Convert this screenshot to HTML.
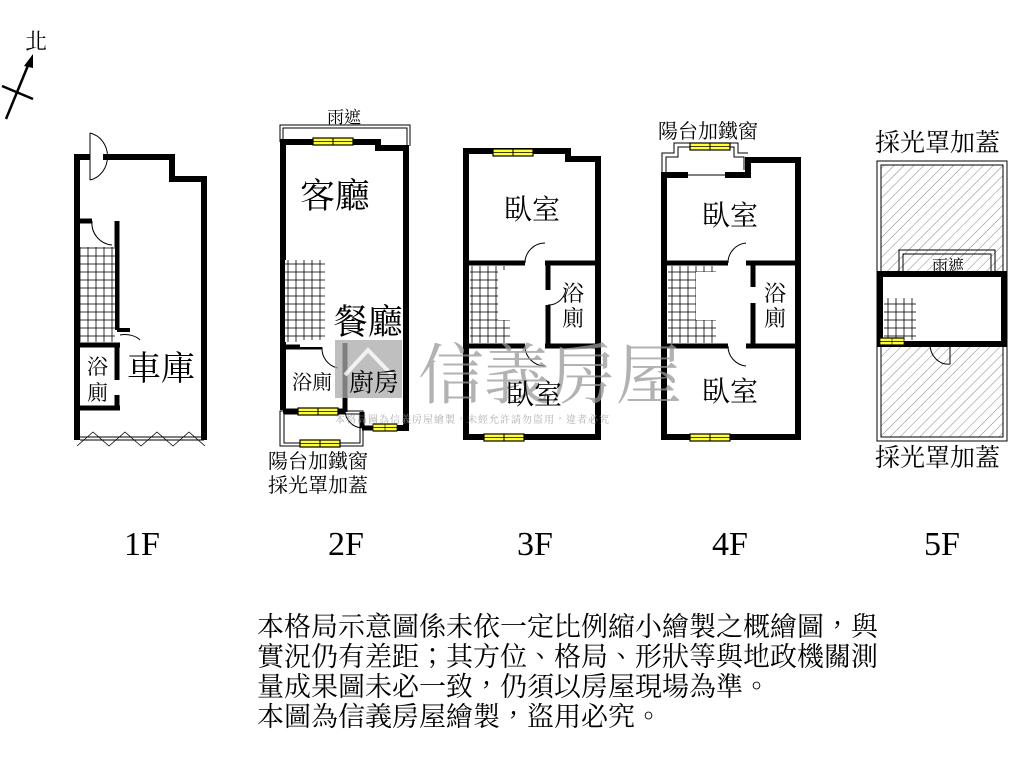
<!DOCTYPE html>
<html><head><meta charset="utf-8"><style>
html,body{margin:0;padding:0;background:#fff;}
svg{display:block;}
text{font-family:"Liberation Serif","Noto Serif CJK TC","Noto Serif CJK SC",serif;fill:#000;}
</style></head><body>
<svg width="1024" height="768" viewBox="0 0 1024 768" xmlns="http://www.w3.org/2000/svg">
<defs>
<pattern id="hatch" width="7" height="7" patternUnits="userSpaceOnUse" patternTransform="rotate(45)">
<line x1="0" y1="0" x2="0" y2="7" stroke="#666" stroke-width="0.8"/>
</pattern>
<pattern id="grid" width="8" height="8" patternUnits="userSpaceOnUse">
<rect width="8" height="8" fill="#fff" stroke="#000" stroke-width="0.8"/>
</pattern>
<g id="win">
<rect x="0" y="-3" width="40" height="7" fill="#ffff33" stroke="#000" stroke-width="1.2"/>
<line x1="20" y1="-3" x2="20" y2="4" stroke="#000"/>
<line x1="0" y1="0.5" x2="40" y2="0.5" stroke="#000" stroke-width="0.7"/>
</g>
</defs>

<!-- North arrow -->
<text x="25" y="49" font-size="22">北</text>
<line x1="6" y1="119" x2="29" y2="63" stroke="#000" stroke-width="2.5"/>
<polygon points="33,54 24,66 33,68" fill="#000"/>
<line x1="2" y1="86" x2="33" y2="99" stroke="#000" stroke-width="2.5"/>

<g fill="none" stroke="#000" stroke-linejoin="miter">
<!-- 1F -->
<path d="M77,440 V157 H90 M103,157 H172 V179 H204 V440" stroke-width="6"/>
<path d="M90,133 A22,24 0 0 1 90,180" stroke-width="1"/>
<line x1="90" y1="133" x2="90" y2="180" stroke-width="1"/>
<line x1="80" y1="221" x2="92" y2="221" stroke-width="5"/>
<line x1="117" y1="221" x2="117" y2="330" stroke-width="5"/>
<line x1="117" y1="345" x2="117" y2="380" stroke-width="5"/>
<path d="M92,221 A22,22 0 0 0 112,245" stroke-width="1"/>
<line x1="80" y1="345" x2="120" y2="345" stroke-width="5"/>
<line x1="80" y1="408" x2="120" y2="408" stroke-width="5"/>
<line x1="117" y1="330" x2="130" y2="330" stroke-width="4"/>
<path d="M120,335 A18,12 0 0 1 140,340" stroke-width="1"/>
<line x1="117" y1="395" x2="117" y2="408" stroke-width="5"/>
<line x1="80" y1="440" x2="204" y2="440" stroke-width="1"/>
<line x1="80" y1="437" x2="204" y2="437" stroke-width="1"/>
<path d="M77,446 L93,432 L109,446 L125,432 L141,446 L157,432 L173,446 L189,432 L205,446" stroke-width="0.8"/>
</g>
<rect x="80" y="247" width="35" height="95" fill="url(#grid)"/>

<!-- 2F -->
<g fill="none" stroke="#000">
<path d="M280,142 V125 H410 V146" stroke-width="1"/>
<path d="M283,142 V128 H407 V146" stroke-width="1"/>
<path d="M283,410 V142 H378 V148 H406 V428 H390" stroke-width="6"/>
<path d="M283,347 H322" stroke-width="5"/>
<path d="M283,411 H345" stroke-width="5"/>
<path d="M345,343 V412" stroke-width="5"/>
<path d="M362,428 H375 M362,412 V428" stroke-width="5"/>
<path d="M322,347 A20,20 0 0 0 338,368" stroke-width="1"/>
<path d="M345,410 A18,18 0 0 0 363,428" stroke-width="1"/>
<rect x="280" y="411" width="83" height="35" stroke-width="1"/>
<rect x="284" y="414" width="76" height="29" stroke-width="1"/>
</g>
<rect x="285" y="260" width="40" height="82" fill="url(#grid)"/>
<rect x="300" y="340" width="26" height="7" fill="#fff"/>
<use href="#win" x="313" y="141"/>
<use href="#win" x="298" y="411"/>
<use href="#win" x="300" y="443"/>
<use href="#win" x="373" y="427" transform="translate(373 427) scale(0.6 1) translate(-373 -427)"/>

<!-- 3F -->
<g fill="none" stroke="#000">
<path d="M466,437 V151 H568 V159 H598 V437 Z" stroke-width="6"/>
<path d="M468,263 H525 M545,263 H598" stroke-width="5"/>
<path d="M468,346 H525 M545,346 H598" stroke-width="5"/>
<path d="M548,263 V290 M548,305 V346" stroke-width="5"/>
<path d="M525,263 A20,20 0 0 1 545,243" stroke-width="1"/>
<path d="M525,346 A20,20 0 0 0 545,366" stroke-width="1"/>
<path d="M548,305 A18,18 0 0 0 566,288" stroke-width="1"/>
</g>
<rect x="470" y="266" width="40" height="77" fill="url(#grid)"/>
<rect x="478" y="270" width="32" height="50" fill="#fff"/>
<rect x="470" y="266" width="28" height="77" fill="url(#grid)"/>
<use href="#win" x="493" y="152"/>
<use href="#win" x="484" y="437"/>

<!-- 4F -->
<g fill="none" stroke="#000">
<path d="M688,175 H664 V437 H798 V160 H748 V175 H725" stroke-width="6"/>
<line x1="688" y1="175" x2="725" y2="175" stroke-width="1"/>
<path d="M662,175 V153 H674 V143 H738 V153 H748" stroke-width="1"/>
<path d="M666,175 V157 H678 V147 H734 V157 H744 V170" stroke-width="1"/>
<path d="M666,263 H728 M746,263 H798" stroke-width="5"/>
<path d="M666,346 H728 M746,346 H798" stroke-width="5"/>
<path d="M753,263 V287 M753,303 V346" stroke-width="5"/>
<path d="M728,263 A20,20 0 0 1 746,243" stroke-width="1"/>
<path d="M728,346 A20,20 0 0 0 746,366" stroke-width="1"/>
</g>
<rect x="668" y="266" width="48" height="77" fill="url(#grid)"/>
<rect x="676" y="272" width="40" height="48" fill="#fff"/>
<rect x="668" y="266" width="28" height="77" fill="url(#grid)"/>
<use href="#win" x="690" y="146"/>
<use href="#win" x="690" y="437"/>

<!-- 5F -->
<rect x="877" y="161" width="130" height="280" fill="#fff" stroke="#000" stroke-width="1"/>
<rect x="881" y="165" width="122" height="272" fill="url(#hatch)" stroke="#000" stroke-width="1"/>
<g fill="none" stroke="#000">
<path d="M899,272 V250 H995 V272" stroke-width="1"/>
<path d="M903,272 V254 H991 V272" stroke-width="1"/>
</g>
<rect x="880" y="274" width="124" height="70" fill="#fff" stroke="#000" stroke-width="6"/>
<rect x="884" y="298" width="32" height="42" fill="url(#grid)"/>
<path d="M930,344 A18,20 0 0 0 950,364 V344" fill="none" stroke="#000" stroke-width="1"/>
<use href="#win" x="880" y="341" transform="translate(880 341) scale(0.6 1) translate(-880 -341)"/>

<!-- watermark -->
<rect x="335" y="340" width="67" height="58" fill="#aaa" opacity="0.75"/>
<path d="M345,375 L368,350 L392,375" fill="none" stroke="#fff" stroke-width="4" opacity="0.8"/>
<text x="418" y="398" font-family="Liberation Sans,Noto Sans CJK TC,sans-serif" font-size="66" style="fill:#999;opacity:0.75">信義房屋</text>
<text x="335" y="423" font-family="Liberation Sans,Noto Sans CJK TC,sans-serif" font-size="10" style="fill:#999;opacity:0.8" letter-spacing="1">本格局圖為信義房屋繪製，未經允許請勿盜用，違者必究</text>

<!-- labels -->
<text x="327" y="123" font-size="17">雨遮</text>
<text x="300" y="208" font-size="35">客廳</text>
<text x="333" y="334" font-size="35">餐廳</text>
<text x="292" y="389" font-size="20">浴廁</text>
<text x="349" y="391" font-size="25">廚房</text>
<text x="268" y="468" font-size="20">陽台加鐵窗</text>
<text x="268" y="492" font-size="20">採光罩加蓋</text>
<text x="87" y="374" font-size="21">浴</text>
<text x="87" y="400" font-size="21">廁</text>
<text x="127" y="380" font-size="34">車庫</text>
<text x="504" y="219" font-size="28">臥室</text>
<text x="562" y="301" font-size="22">浴</text>
<text x="562" y="326" font-size="22">廁</text>
<text x="506" y="404" font-size="28">臥室</text>
<text x="658" y="138" font-size="20">陽台加鐵窗</text>
<text x="702" y="225" font-size="28">臥室</text>
<text x="764" y="301" font-size="22">浴</text>
<text x="764" y="326" font-size="22">廁</text>
<text x="702" y="401" font-size="28">臥室</text>
<text x="875" y="151" font-size="25">採光罩加蓋</text>
<text x="932" y="271" font-size="16">雨遮</text>
<text x="875" y="466" font-size="25">採光罩加蓋</text>

<text x="124" y="555" font-size="34">1F</text>
<text x="328" y="555" font-size="34">2F</text>
<text x="517" y="555" font-size="34">3F</text>
<text x="712" y="555" font-size="34">4F</text>
<text x="924" y="555" font-size="34">5F</text>

<text x="257" y="636" font-size="27">本格局示意圖係未依一定比例縮小繪製之概繪圖，與</text>
<text x="257" y="666" font-size="27">實況仍有差距；其方位、格局、形狀等與地政機關測</text>
<text x="257" y="696" font-size="27">量成果圖未必一致，仍須以房屋現場為準。</text>
<text x="257" y="726" font-size="27">本圖為信義房屋繪製，盜用必究。</text>
</svg>
</body></html>
